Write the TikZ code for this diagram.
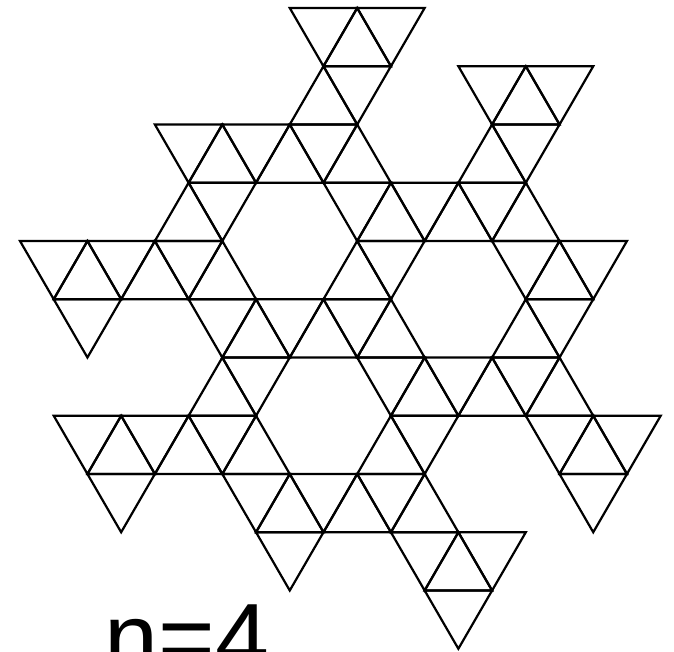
\documentclass[tikz,border=0pt]{standalone}
\usepackage{fontspec}
\setmainfont{Liberation Sans}
\begin{document}
\begin{tikzpicture}[x=1pt,y=1pt, tri/.style={draw=black, line width=2.2pt}]
\useasboundingbox (0,0) rectangle (674,-652);
\clip (0,0) rectangle (674,-652);
\foreach \k/\js in {0/{9,10,11},1/{9,10,14,15,16},2/{5,6,7,8,9,10,14,15},3/{5,6,10,11,12,13,14,15},4/{1,2,3,4,5,6,10,11,15,16,17},5/{2,6,7,8,9,10,11,15,16},6/{6,7,11,12,13,14,15,16},7/{2,3,4,5,6,7,11,12,16,17,18},8/{3,7,8,9,10,11,12,17},9/{8,12,13,14},10/{13}}{
  \foreach \j in \js {
    \pgfmathtruncatemacro\p{mod(\j+\k,2)}
    \ifnum\p=0
      \draw[tri] ({20+33.72*\j},{-8-58.25*\k}) -- ({20+33.72*(\j-1)},{-8-58.25*(\k+1)}) -- ({20+33.72*(\j+1)},{-8-58.25*(\k+1)}) -- cycle;
    \else
      \draw[tri] ({20+33.72*(\j-1)},{-8-58.25*\k}) -- ({20+33.72*(\j+1)},{-8-58.25*\k}) -- ({20+33.72*\j},{-8-58.25*(\k+1)}) -- cycle;
    \fi
  }
}
\node[anchor=base west, inner sep=0pt, font=\fontsize{97}{100}\selectfont] (label) at (104.5,-671) {n=4};
\end{tikzpicture}
\end{document}
